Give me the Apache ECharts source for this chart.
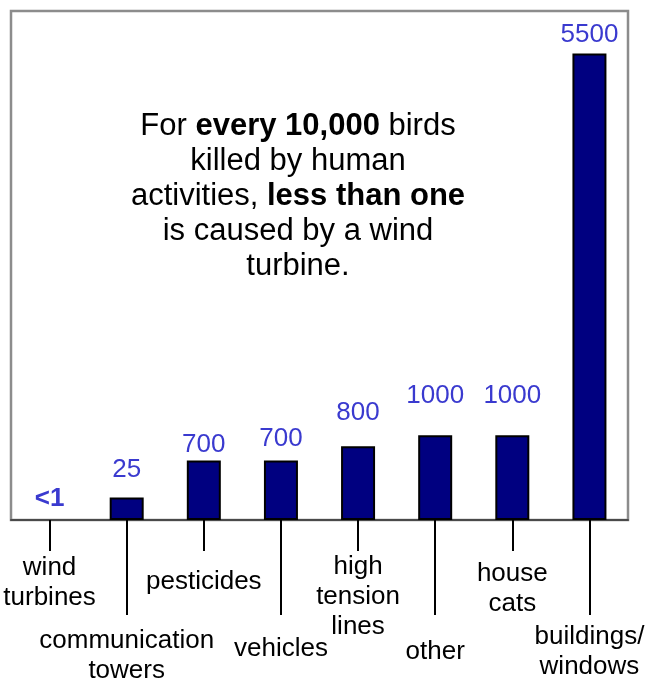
<!DOCTYPE html>
<html>
<head>
<meta charset="utf-8">
<script src="https://cdn.jsdelivr.net/npm/echarts@6/dist/echarts.min.js"></script>
<style>
  html, body { margin: 0; padding: 0; background: #fff; }
</style>
</head>
<body>
<div id="birds" style="width:647px;height:680px;"></div>
<script>
// categories (line breaks as on the picture)
var categories = [
  "wind\nturbines",
  "communication\ntowers",
  "pesticides",
  "vehicles",
  "high\ntension\nlines",
  "other",
  "house\ncats",
  "buildings/\nwindows"
];
// bar heights as drawn on the picture (axis units)
var barHeights = [0, 265, 700, 700, 870, 1000, 1000, 5500];
// numbers printed above the bars
var valueLabels = ["<1", "25", "700", "700", "800", "1000", "1000", "5500"];

var FONT = "'Liberation Sans', Arial, sans-serif";
// label styling, per bar / per category
var labelGap = [8, 15, 3, 9, 20, 26, 26, 6];
var labelDrop = [2, 12, 16, 20, 1, 23, 8, 8];

var chart = echarts.init(document.getElementById("birds"));

var axisData = categories.map(function(c, i) {
  return { value: c, textStyle: { padding: [labelDrop[i], 0, 0, 0] } };
});

var barData = barHeights.map(function(v, i) {
  return {
    value: v,
    itemStyle: v === 0 ? { borderWidth: 0 } : undefined,
    label: {
      distance: labelGap[i],
      fontWeight: i === 0 ? "bold" : "normal"
    }
  };
});

function baseAxis(even, len) {
  var pick = function(idx) { return even ? idx % 2 === 0 : idx % 2 === 1; };
  return {
    type: "category",
    position: "bottom",
    data: axisData,
    boundaryGap: true,
    axisLine: {
      show: even,
      lineStyle: { color: "#4a4a4a", width: 2 }
    },
    axisTick: {
      show: true,
      alignWithLabel: true,
      length: len,
      lineStyle: { color: "#000", width: 2 },
      interval: pick
    },
    axisLabel: {
      interval: pick,
      margin: even ? 31 : 94,
      color: "#000",
      fontSize: 26,
      lineHeight: 30,
      fontFamily: FONT
    },
    splitLine: { show: false }
  };
}

chart.setOption({
  animation: false,
  grid: {
    left: 11,
    right: 19,
    top: 11,
    bottom: 160,
    show: true,
    borderColor: "#8c8c8c",
    borderWidth: 2.5,
    containLabel: false,
    outerBoundsMode: "none"
  },
  xAxis: [baseAxis(true, 31), baseAxis(false, 95)],
  yAxis: {
    type: "value",
    min: 0,
    max: 6000,
    show: false,
    splitLine: { show: false }
  },
  graphic: [
    {
      type: "text",
      x: 298,
      y: 109,
      style: {
        text: "For {b|every 10,000} birds\nkilled by human\nactivities, {b|less than one}\nis caused by a wind\nturbine.",
        align: "center",
        verticalAlign: "top",
        fill: "#000",
        fontSize: 31,
        fontFamily: FONT,
        lineHeight: 35,
        rich: {
          b: { fontWeight: "bold", fontSize: 31, fontFamily: FONT, lineHeight: 35 }
        }
      }
    }
  ],
  series: [
    {
      type: "bar",
      xAxisIndex: 0,
      barWidth: 34,
      itemStyle: {
        color: "#000080",
        borderColor: "#000",
        borderWidth: 2
      },
      label: {
        show: true,
        position: "top",
        color: "#3a3acf",
        fontSize: 26,
        fontFamily: FONT,
        formatter: function(p) {
          return valueLabels[p.dataIndex];
        }
      },
      data: barData
    }
  ]
});
</script>
</body>
</html>
